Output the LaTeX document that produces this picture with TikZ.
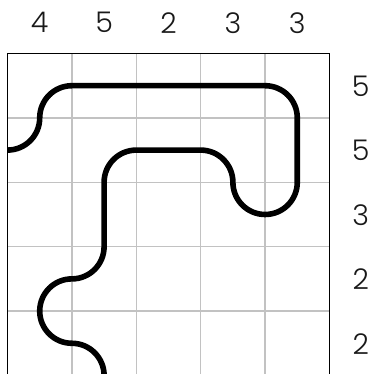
\documentclass[tikz,border=0pt]{standalone}
\usepackage{fontspec}
\setmainfont{Poppins}[UprightFont=* Light]
\begin{document}
\begin{tikzpicture}[x=64.4pt,y=64.4pt,
  gridline/.style={line width=1.4pt,draw=black!24},
  frame/.style={line width=1.8pt,draw=black},
  loopline/.style={line width=5.6pt,draw=black,line join=round},
  clue/.style={font=\fontsize{28.5}{32}\selectfont,inner sep=0pt,text=black!90}]
\useasboundingbox (-0.1165,0.8307) rectangle (5.660,-4.977);
\clip (-0.1165,0.8307) rectangle (5.660,-4.977);
% grid
\foreach \i in {1,2,3,4}{
  \draw[gridline] (\i,0) -- (\i,-5);
  \draw[gridline] (0,-\i) -- (5,-\i);
}
\draw[frame] (0,0) rectangle (5,-5);
% loop path
\draw[loopline] (0,-1.5) arc[start angle=-90,end angle=0,radius=0.5]
  arc[start angle=180,end angle=90,radius=0.5]
  -- (4,-0.5)
  arc[start angle=90,end angle=0,radius=0.5]
  -- (4.5,-2)
  arc[start angle=0,end angle=-180,radius=0.5]
  arc[start angle=0,end angle=90,radius=0.5]
  -- (2,-1.5)
  arc[start angle=90,end angle=180,radius=0.5]
  -- (1.5,-3)
  arc[start angle=0,end angle=-90,radius=0.5]
  arc[start angle=90,end angle=270,radius=0.5]
  arc[start angle=90,end angle=0,radius=0.5];
% column clues
\node[clue] (c1) at (0.5,0.477) {4};
\node[clue] (c2) at (1.5,0.477) {5};
\node[clue] (c3) at (2.5,0.477) {2};
\node[clue] (c4) at (3.5,0.477) {3};
\node[clue] (c5) at (4.5,0.477) {3};
% row clues
\node[clue] (r1) at (5.486,-0.51) {5};
\node[clue] (r2) at (5.486,-1.51) {5};
\node[clue] (r3) at (5.486,-2.51) {3};
\node[clue] (r4) at (5.486,-3.51) {2};
\node[clue] (r5) at (5.486,-4.51) {2};
\end{tikzpicture}
\end{document}
